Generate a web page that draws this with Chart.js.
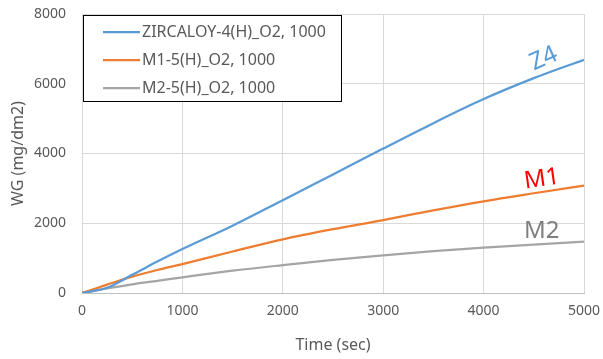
<!DOCTYPE html>
<html>
<head>
<meta charset="utf-8">
<script src="https://cdn.jsdelivr.net/npm/chart.js@4"></script>
<style>
  html, body { margin: 0; padding: 0; background: #fff; }
  #wrap { width: 603px; height: 359px; }
</style>
</head>
<body>
<div id="wrap"><canvas id="chart" width="603" height="359"></canvas></div>
<script>
// time (sec) sample points
const times = [0, 250, 500, 750, 1000, 1500, 2000, 2500, 3000, 3500, 4000, 4500, 5000];
// weight gain values (mg/dm2)
const z4Values = [0, 150, 520, 900, 1260, 1930, 2660, 3400, 4140, 4870, 5560, 6160, 6690];
const m1Values = [0, 240, 470, 660, 830, 1190, 1540, 1830, 2090, 2370, 2630, 2860, 3080];
const m2Values = [0, 130, 250, 350, 450, 640, 800, 950, 1080, 1200, 1300, 1390, 1470];

const seriesLabels = ['ZIRCALOY-4(H)_O2, 1000', 'M1-5(H)_O2, 1000', 'M2-5(H)_O2, 1000'];
const seriesColors = ['#5b9bd5', '#ed7d31', '#a5a5a5'];

// text tags beside the line ends: [text, x, y, colour, angle in degrees]
const tags = [
    ['Z4', 4600, 6720, '#5b9bd5', -24],
    ['M1', 4580, 3260, '#ff0000', -8],
    ['M2', 4580, 1760, '#7f7f7f', 0]
];

const FONT = '"Noto Sans", "DejaVu Sans", sans-serif';
const TEXT = '#595959';

function toPoints(values) {
    return values.map((v, i) => ({ x: times[i], y: v }));
}

// legend box drawn inside the plot area, top left
const boxLegend = {
    id: 'boxLegend',
    afterDraw(chart) {
        const ctx = chart.ctx;
        const area = chart.chartArea;
        const x0 = area.left + 1, y0 = area.top + 1;
        const w = 258, h = 86;
        ctx.save();
        ctx.fillStyle = '#fff';
        ctx.fillRect(x0, y0, w, h);
        ctx.strokeStyle = '#000';
        ctx.lineWidth = 1;
        ctx.strokeRect(x0 + 0.5, y0 + 0.5, w, h);
        ctx.font = '16px ' + FONT;
        ctx.textBaseline = 'middle';
        seriesLabels.forEach((label, i) => {
            const y = y0 + 17 + i * 28;
            ctx.strokeStyle = seriesColors[i];
            ctx.lineWidth = 2.25;
            ctx.beginPath();
            ctx.moveTo(x0 + 20, y);
            ctx.lineTo(x0 + 57, y);
            ctx.stroke();
            ctx.fillStyle = TEXT;
            ctx.fillText(label, x0 + 59, y);
        });
        ctx.restore();
    }
};

const lineTags = {
    id: 'lineTags',
    afterDatasetsDraw(chart) {
        const ctx = chart.ctx;
        const xs = chart.scales.x, ys = chart.scales.y;
        ctx.save();
        ctx.font = '24px ' + FONT;
        ctx.textAlign = 'center';
        ctx.textBaseline = 'middle';
        tags.forEach(([text, tx, ty, color, angle]) => {
            ctx.save();
            ctx.translate(xs.getPixelForValue(tx), ys.getPixelForValue(ty));
            ctx.rotate(angle * Math.PI / 180);
            ctx.fillStyle = color;
            ctx.fillText(text, 0, 0);
            ctx.restore();
        });
        ctx.restore();
    }
};

const datasets = [z4Values, m1Values, m2Values].map((vals, i) => ({
    label: seriesLabels[i],
    data: toPoints(vals),
    borderColor: seriesColors[i],
    backgroundColor: seriesColors[i],
    borderWidth: 2.25,
    pointRadius: 0,
    cubicInterpolationMode: 'monotone',
    fill: false
}));

const plain = v => String(v);

// drop the edge padding chart.js reserves for the end tick labels
function noEdgePad(scale) {
    scale.paddingTop = 0;
    scale.paddingBottom = 0;
    scale.paddingLeft = 0;
    scale.paddingRight = 0;
}

new Chart(document.getElementById('chart').getContext('2d'), {
    type: 'line',
    data: { datasets },
    options: {
        responsive: false,
        animation: false,
        layout: { padding: { top: 14, right: 19, left: 0, bottom: 0 } },
        plugins: {
            legend: { display: false },
            tooltip: { enabled: false }
        },
        scales: {
            x: {
                type: 'linear',
                min: 0,
                max: 5000,
                ticks: { stepSize: 1000, callback: plain, color: TEXT, font: { family: FONT, size: 14 }, padding: 10 },
                grid: { color: '#d9d9d9', drawTicks: false },
                border: { color: '#bfbfbf' },
                title: { display: true, text: 'Time (sec)', color: TEXT, font: { family: FONT, size: 16 }, padding: { top: 8 } },
                afterFit(scale) { scale.height = 66; noEdgePad(scale); }
            },
            y: {
                min: 0,
                max: 8000,
                ticks: { stepSize: 2000, callback: plain, color: TEXT, font: { family: FONT, size: 14 }, padding: 16 },
                grid: { color: '#d9d9d9', drawTicks: false },
                border: { display: false },
                title: { display: true, text: 'WG (mg/dm2)', color: TEXT, font: { family: FONT, size: 16 }, padding: { top: 9, bottom: 0 } },
                afterFit(scale) { scale.width = 82; noEdgePad(scale); }
            }
        }
    },
    plugins: [boxLegend, lineTags]
});
</script>
</body>
</html>
